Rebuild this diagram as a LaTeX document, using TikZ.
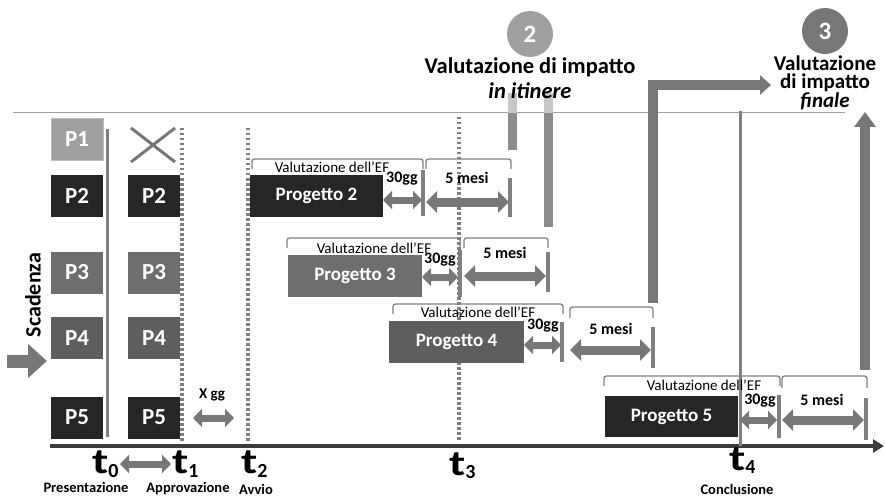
\documentclass[tikz,border=0pt]{standalone}
\usepackage{fontspec}
\setmainfont{Carlito}
\usetikzlibrary{arrows.meta}
\definecolor{dk}{HTML}{262626}
\definecolor{gA}{HTML}{A0A0A0}
\definecolor{gB}{HTML}{6E6E6E}
\definecolor{gC}{HTML}{5E5E5E}
\definecolor{gL}{HTML}{808080}
\definecolor{gM}{HTML}{777777}
\definecolor{gT}{HTML}{C8C8C8}
\newcommand{\fs}[1]{\fontsize{#1}{#1}\selectfont}
\newcommand{\tlab}[1]{\scalebox{1.3}[1]{\fs{36}t}\raisebox{-3.5pt}{\fs{20}#1}}
\tikzset{
  pbox/.style={minimum width=52pt, minimum height=42pt, inner sep=0pt, text=white, font=\bfseries\fs{23}},
  projbox/.style={minimum width=134pt, minimum height=42pt, inner sep=0pt, text=white, font=\bfseries\fs{19}},
  vbar/.style={draw=gL, line width=4pt},
  dotline/.style={draw=gL, line width=3.5pt, dash pattern=on 2.5pt off 2.5pt},
  brk/.style={draw=gL, line width=1.3pt, rounded corners=2.5pt},
  brktext/.style={font=\fs{15}, inner sep=0pt},
  durtext/.style={font=\bfseries\fs{16}, inner sep=0pt},
  dbl/.style={draw=gM, line width=7pt, {Triangle[width=18pt,length=9pt]}-{Triangle[width=18pt,length=9pt]}},
  dblw/.style={draw=gM, line width=9pt, {Triangle[width=21pt,length=11pt]}-{Triangle[width=21pt,length=11pt]}},
  tnode/.style={font=\bfseries, inner sep=0pt, anchor=base west},
  small/.style={font=\bfseries\fs{14.5}, inner sep=0pt},
  big/.style={font=\bfseries\fs{22.5}, inner sep=0pt},
  numc/.style={circle, minimum size=46pt, inner sep=0pt, text=white, font=\bfseries\fs{25}}
}
\begin{document}
\begin{tikzpicture}[x=1pt,y=-1pt]
\useasboundingbox (0,0) rectangle (885,497);

% top thin line
\draw[draw=gA, line width=1pt] (13,113) -- (845,113);

% timeline axis
\coordinate (ax0) at (50,446);
\coordinate (ax1) at (884,446);
\draw[draw=dk!90, line width=3.5pt, -{Triangle[width=13pt,length=11pt]}] (ax0) -- (ax1);

% vertical reference lines
\draw[draw=gL, line width=3pt] (107,129) -- (107,437);
\draw[dotline] (182,128) -- (182,441);
\draw[dotline] (248,128) -- (248,441);
\draw[dotline] (459,117) -- (459,441);
\draw[draw=gL, line width=3pt] (740,111) -- (740,446);

% P column 1
\node[pbox, fill=gA, draw=gA!70] (a1) at (77,139.5) {P1};
\node[pbox, fill=dk] (a2) at (77,196) {P2};
\node[pbox, fill=gB] (a3) at (77,272.5) {P3};
\node[pbox, fill=gC] (a4) at (77,338) {P4};
\node[pbox, fill=dk] (a5) at (77,417.5) {P5};
% P column 2
\draw[draw=gM, line width=3pt] (131,128) -- (175,162) (131,162) -- (175,128);
\node[pbox, fill=dk] (b2) at (154,196) {P2};
\node[pbox, fill=gB] (b3) at (154,272.5) {P3};
\node[pbox, fill=gC] (b4) at (154,338) {P4};
\node[pbox, fill=dk] (b5) at (154,417.5) {P5};

% Scadenza
\coordinate (s0) at (7,361);
\coordinate (s1) at (47,361);
\draw[draw=gM, line width=13pt, -{Triangle[width=33pt,length=19pt]}] (s0) -- (s1);
\node[rotate=90, font=\bfseries\fs{22}, inner sep=0pt] (scad) at (33,295) {Scadenza};

% X gg
\node[font=\bfseries\fs{15}, inner sep=0pt] (xgg) at (212,395) {X gg};
\coordinate (x0) at (193,418);
\coordinate (x1) at (234,418);
\draw[dbl] (x0) -- (x1);

% t labels
\node[tnode] (t0) at (92,473.5) {\tlab{0}};
\node[tnode] (t1) at (172,473.5) {\tlab{1}};
\node[tnode] (t2) at (241,473.5) {\tlab{2}};
\node[tnode] (t3) at (449,475) {\tlab{3}};
\node[tnode] (t4) at (729,470) {\tlab{4}};
\coordinate (tt0) at (120,464);
\coordinate (tt1) at (171,464);
\draw[dbl] (tt0) -- (tt1);
\node[small] (pres) at (86,487) {Presentazione};
\node[small] (appr) at (188,488.5) {Approvazione};
\node[small] (avv) at (256,489.5) {Avvio};
\node[small] (concl) at (737,489.5) {Conclusione};

% ---------- Progetto 2
\node[projbox, fill=dk, minimum width=133pt] (p2) at (316.5,196) {Progetto 2};
\draw[brk] (252,169) -- (252,159) -- (423,159) -- (423,169);
\node[brktext] at (332,167) {Valutazione dell’EF};
\node[durtext] at (402,179) {30gg};
\coordinate (p2a) at (383,200);
\coordinate (p2b) at (422,200);
\draw[dbl] (p2a) -- (p2b);
\draw[vbar] (423,170) -- (423,216);
\draw[brk] (426,169) -- (426,159) -- (511,159) -- (511,169);
\node[durtext] at (467,178) {5 mesi};
\coordinate (p2c) at (426,202);
\coordinate (p2d) at (509,202);
\draw[dblw] (p2c) -- (p2d);
\draw[vbar] (510,178) -- (510,217);

% ---------- Progetto 3
\node[projbox, fill=gB] (p3) at (355,276) {Progetto 3};
\draw[brk] (287,248) -- (287,238) -- (460,238) -- (460,248);
\node[brktext] at (374,248) {Valutazione dell’EF};
\node[durtext] at (440,260) {30gg};
\coordinate (p3a) at (422,277);
\coordinate (p3b) at (458,277);
\draw[dbl] (p3a) -- (p3b);
\draw[vbar] (460,250) -- (460,297);
\draw[brk] (464,248) -- (464,238) -- (548,238) -- (548,248);
\node[durtext] at (505,253) {5 mesi};
\coordinate (p3c) at (464,276);
\coordinate (p3d) at (546,276);
\draw[dblw] (p3c) -- (p3d);
\draw[vbar] (548,252) -- (548,292);

% ---------- Progetto 4
\node[projbox, fill=gC, minimum width=135pt] (p4) at (456.5,342) {Progetto 4};
\draw[brk] (393,314) -- (393,304) -- (563,304) -- (563,314);
\node[brktext] at (478,312) {Valutazione dell’EF};
\node[durtext] at (543,326) {30gg};
\coordinate (p4a) at (524,345);
\coordinate (p4b) at (561,345);
\draw[dbl] (p4a) -- (p4b);
\draw[vbar] (562,322) -- (562,362);
\draw[brk] (570,318) -- (570,307) -- (653,307) -- (653,318);
\node[durtext] at (611,329) {5 mesi};
\coordinate (p4c) at (570,350);
\coordinate (p4d) at (651,350);
\draw[dblw] (p4c) -- (p4d);
\draw[vbar] (653,327) -- (653,368);

% ---------- Progetto 5
\node[projbox, fill=dk, minimum width=133pt, minimum height=41pt] (p5) at (671.5,416.5) {Progetto 5};
\draw[brk] (604,386) -- (604,376) -- (780,376) -- (780,386);
\node[brktext] at (704,385.5) {Valutazione dell’EF};
\node[durtext] at (760,400.5) {30gg};
\coordinate (p5a) at (740,420);
\coordinate (p5b) at (777,420);
\draw[dbl] (p5a) -- (p5b);
\draw[vbar] (779,395) -- (779,438);
\draw[brk] (782,388) -- (782,376) -- (867,376) -- (867,388);
\node[durtext] at (822,400) {5 mesi};
\coordinate (p5c) at (782,420);
\coordinate (p5d) at (864,420);
\draw[dblw] (p5c) -- (p5d);
\draw[vbar] (866,398) -- (866,440);

% ---------- in itinere bars
\draw[draw=gT, line width=9pt] (512,93) -- (512,113);
\draw[draw=gL!90, line width=9pt] (512,113) -- (512,150);
\draw[draw=gT, line width=9pt] (548,93) -- (548,113);
\draw[draw=gL!90, line width=9pt] (548,113) -- (548,227);

% ---------- L arrow to finale
\coordinate (la) at (653,303);
\coordinate (lb) at (653,85);
\coordinate (lc) at (771,85);
\draw[draw=gM, line width=10pt, line join=miter, -{Triangle[width=19pt,length=11pt]}] (la) -- (lb) -- (lc);

% ---------- up arrow
\coordinate (ua) at (865,370);
\coordinate (ub) at (865,112);
\draw[draw=gM, line width=10pt, -{Triangle[width=21pt,length=15pt]}] (ua) -- (ub);

% ---------- circles and headings
\node[numc, fill=gA] (c2) at (530,34) {2};
\node[big] (h2a) at (530,67) {Valutazione di impatto};
\node[big] (h2b) at (530,91) {\itshape in itinere};
\node[numc, fill=gM] (c3) at (825,31) {3};
\node[font=\bfseries\fontsize{21}{17.5}\selectfont, inner sep=0pt, align=center] (h3) at (825,83)
  {Valutazione\\di impatto\\\itshape finale};
\end{tikzpicture}
\end{document}
